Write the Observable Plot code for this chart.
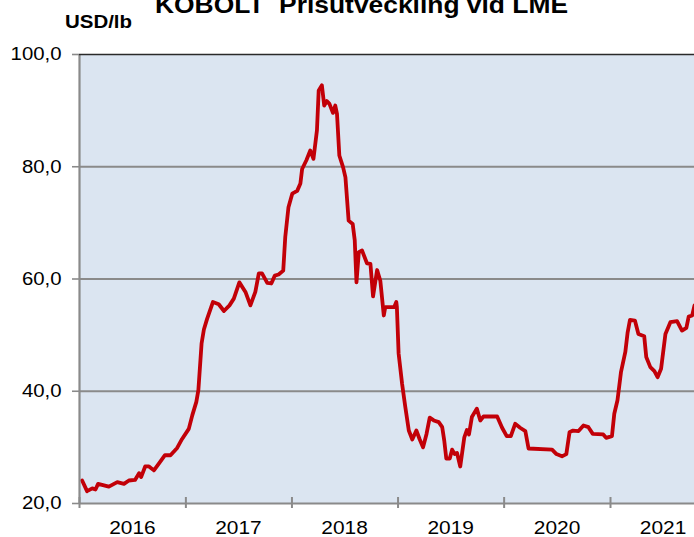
<!DOCTYPE html>
<html>
<head>
<meta charset="utf-8">
<script src="https://cdn.jsdelivr.net/npm/d3@7"></script>
<script src="https://cdn.jsdelivr.net/npm/@observablehq/plot@0.6"></script>
<style>
  body { margin: 0; background: #ffffff; }
  #chart svg { display: block; }
  #chart svg text { font-family: Arial, "Liberation Sans", sans-serif; }
</style>
</head>
<body>
<div id="chart"></div>
<script>
// ---- data ----
const dates = [
  "2016-01-10","2016-01-27","2016-02-14","2016-02-25","2016-03-05","2016-04-11","2016-05-10","2016-06-02","2016-06-19","2016-07-10",
  "2016-07-24","2016-07-31","2016-08-14","2016-08-27","2016-09-13","2016-09-30","2016-10-21","2016-11-09","2016-12-02","2016-12-19",
  "2017-01-11","2017-01-23","2017-02-06","2017-02-13","2017-02-24","2017-03-04","2017-03-15","2017-04-04","2017-04-24","2017-05-12",
  "2017-05-31","2017-06-15","2017-07-04","2017-07-25","2017-08-11","2017-08-28","2017-09-09","2017-09-20","2017-10-08","2017-10-22",
  "2017-11-03","2017-11-16","2017-12-02","2017-12-09","2017-12-20",
  "2018-01-02","2018-01-19","2018-01-30","2018-02-05","2018-02-20","2018-03-05","2018-03-16","2018-03-28","2018-04-03","2018-04-14",
  "2018-04-22","2018-05-01","2018-05-10","2018-05-22","2018-05-30","2018-06-05","2018-06-13","2018-06-26","2018-07-04","2018-07-15",
  "2018-07-29","2018-08-05","2018-08-11","2018-08-19","2018-08-30","2018-09-16","2018-09-28","2018-10-07","2018-10-21","2018-11-01",
  "2018-11-13","2018-11-18","2018-12-19","2018-12-26","2018-12-28",
  "2019-01-03","2019-01-15","2019-01-26","2019-02-07","2019-02-19","2019-03-05","2019-03-16","2019-03-28","2019-04-09","2019-04-20",
  "2019-05-04","2019-05-21","2019-06-02","2019-06-09","2019-06-16","2019-06-28","2019-07-06","2019-07-15","2019-07-23","2019-08-03",
  "2019-08-17","2019-08-26","2019-09-02","2019-09-12","2019-09-29","2019-10-11","2019-10-22","2019-12-08","2019-12-25",
  "2020-01-10","2020-01-24","2020-02-08","2020-02-25","2020-03-14","2020-03-25","2020-06-14","2020-06-29","2020-07-18","2020-08-02",
  "2020-08-13","2020-08-25","2020-09-13","2020-09-30","2020-10-17","2020-11-01","2020-12-07","2020-12-17",
  "2021-01-06","2021-01-14","2021-01-25","2021-02-06","2021-02-21","2021-03-01","2021-03-09","2021-03-26","2021-04-07","2021-04-27",
  "2021-05-04","2021-05-18","2021-06-01","2021-06-12","2021-06-24","2021-07-09","2021-07-26","2021-08-18","2021-09-04","2021-09-19",
  "2021-09-27","2021-10-09","2021-10-17"
];
const prices = [
  24.1,22.2,22.7,22.5,23.5,23.0,23.8,23.5,24.1,24.2,
  25.4,24.7,26.6,26.6,25.9,27.1,28.6,28.6,29.9,31.5,
  33.3,35.7,38.1,40.2,48.5,51.0,52.9,55.9,55.5,54.3,
  55.3,56.5,59.4,57.7,55.3,57.7,61.0,61.0,59.3,59.2,
  60.6,60.8,61.5,67.5,72.8,
  75.2,75.7,77.0,79.6,81.2,82.9,81.4,86.5,93.6,94.5,
  90.9,91.7,91.2,89.6,90.9,89.4,82.0,79.9,78.1,70.4,
  69.8,66.9,59.4,64.8,65.1,62.8,62.7,56.9,61.6,59.7,
  53.5,55.0,55.0,55.9,55.0,
  46.7,41.3,37.2,33.0,31.4,33.0,31.5,30.0,32.4,35.3,
  34.8,34.5,33.6,31.2,28.0,28.0,29.6,28.8,29.0,26.6,
  31.8,33.1,32.3,35.4,36.9,34.8,35.5,35.5,33.5,
  32.0,32.0,34.2,33.5,32.9,29.8,29.6,28.8,28.4,28.8,
  32.7,33.0,32.9,33.9,33.6,32.4,32.3,31.7,
  32.0,36.0,38.4,43.4,47.0,50.5,52.7,52.6,50.2,49.8,
  46.1,44.3,43.6,42.5,44.0,50.2,52.3,52.5,50.8,51.3,
  53.3,53.5,55.3
];
const yearLabels = ["2016","2017","2018","2019","2020","2021"];
const yearStarts = ["2016-01-01","2017-01-01","2018-01-01","2019-01-01","2020-01-01","2021-01-01"];
const yearMids = ["2016-07-01","2017-07-01","2018-07-01","2019-07-01","2020-07-01","2021-07-01"];
const xDomain = ["2016-01-01","2021-10-17"];
const yTicks = [20, 40, 60, 80, 100];
const gridValues = [40, 60, 80];
const titleText = "KOBOLT  Prisutveckling vid LME";
const unitText = "USD/lb";

// ---- build ----
const parse = d3.utcParse("%Y-%m-%d");
const data = dates.map((d, i) => ({date: parse(d), value: prices[i]}));
const starts = yearStarts.map(parse);
const mids = yearMids.map(parse);
const fmtY = d => d.toFixed(1).replace(".", ",");
const fmtX = d => yearLabels[mids.findIndex(m => +m === +d)];
const gray = "#8a8a8a";

const chart = Plot.plot({
  width: 694,
  height: 537,
  marginLeft: 79,
  marginRight: 0,
  marginTop: 54,
  marginBottom: 34,
  style: {background: "#ffffff", overflow: "visible"},
  x: {type: "utc", domain: xDomain.map(parse)},
  y: {domain: [20, 100]},
  marks: [
    Plot.frame({fill: "#dbe5f1", stroke: null}),
    Plot.ruleY(gridValues, {stroke: gray, strokeWidth: 2}),
    Plot.lineY(data, {x: "date", y: "value", stroke: "#c20008", strokeWidth: 3.8, strokeLinejoin: "round", clip: true}),
    Plot.ruleY([20], {stroke: gray, strokeWidth: 2.2}),
    Plot.ruleX([parse(xDomain[0])], {stroke: gray, strokeWidth: 2.2}),
    Plot.ruleY([100], {stroke: "#2a2a2a", strokeWidth: 1.6}),
    Plot.axisY(yTicks, {tickSize: 7, tickPadding: 11, tickFormat: fmtY, stroke: gray, strokeWidth: 1.6, fontSize: 18.5, fill: "#000", label: null}),
    Plot.axisX(starts, {tickSize: 11, dy: -6, tickFormat: () => "", stroke: gray, strokeWidth: 2, label: null}),
    Plot.axisX(mids, {tickSize: 0, tickPadding: 17, tickFormat: fmtX, fontSize: 19, fill: "#000", label: null})
  ]
});

document.getElementById("chart").appendChild(chart);

const svg = d3.select(chart);
svg.append("text")
  .attr("transform", "translate(155,12.5)")
  .attr("text-anchor", "start")
  .attr("font-size", 24)
  .attr("font-weight", "bold")
  .attr("fill", "#000")
  .style("white-space", "pre")
  .text(titleText);
svg.append("text")
  .attr("transform", "translate(65,28.3)")
  .attr("text-anchor", "start")
  .attr("font-size", 18.6)
  .attr("font-weight", "bold")
  .attr("fill", "#000")
  .text(unitText);

// the reference's lettering is slightly stretched horizontally
svg.selectAll("text").each(function() {
  const t = this.getAttribute("transform") || "";
  this.setAttribute("transform", t + " scale(1.1,1)");
});
</script>
</body>
</html>
